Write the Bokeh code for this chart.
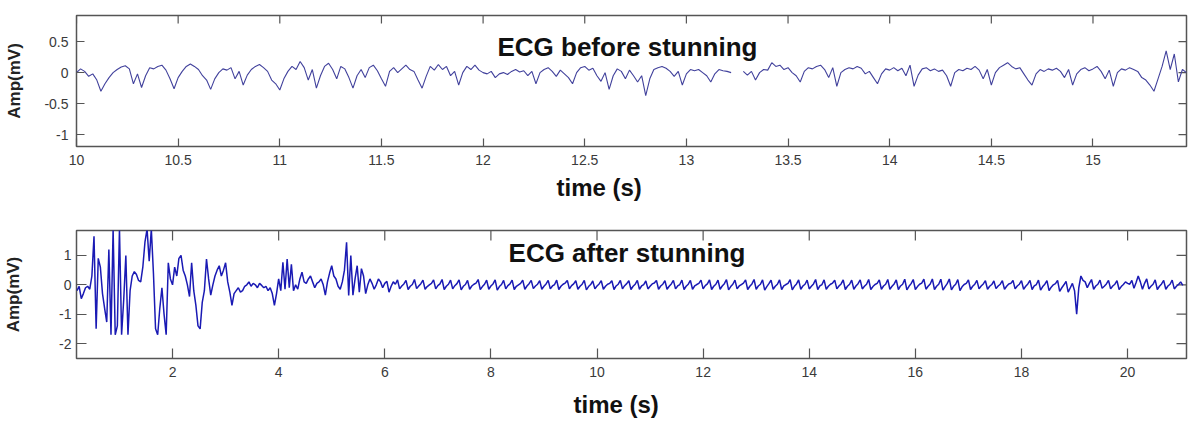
import numpy as np
from bokeh.plotting import figure
from bokeh.layouts import column
from bokeh.models import FixedTicker, Label, ColumnDataSource, Title
from bokeh.embed import file_html
from bokeh.resources import INLINE

nan = float("nan")

# ---------------- data: ECG before stunning (sampled every 0.02 s from 10.00 s)
before_start = 10.0
before_step = 0.02
amp_before = [
    0.0, 0.06, 0.02, -0.06, -0.02, -0.12, -0.30, -0.18, -0.08, 0.0,
    0.05, 0.09, 0.11, 0.06, -0.18, -0.02, -0.24, -0.05, 0.08, 0.06,
    0.10, 0.12, 0.04, -0.10, -0.26, -0.08, 0.02, 0.10, 0.14, 0.10,
    0.05, -0.05, -0.12, -0.27, -0.10, 0.0, 0.06, 0.04, 0.08, -0.10,
    0.02, -0.20, -0.04, 0.05, 0.10, 0.13, 0.08, 0.02, -0.12, -0.18,
    -0.28, -0.10, 0.02, 0.10, 0.05, 0.18, 0.08, -0.12, 0.05, -0.25,
    -0.05, 0.10, 0.15, 0.05, -0.10, 0.10, 0.06, -0.08, -0.25, -0.05,
    0.05, -0.08, 0.08, 0.12, 0.03, -0.10, -0.22, 0.02, 0.08, 0.0,
    0.06, 0.12, 0.05, 0.02, -0.12, -0.25, -0.06, 0.10, 0.04, 0.13,
    0.05, 0.10, -0.05, 0.02, -0.20, 0.0, 0.10, 0.05, 0.12, 0.04,
    0.0, -0.02, 0.02, -0.08, -0.02, 0.0, -0.03, 0.02, 0.05, 0.01,
    0.03, -0.05, 0.02, -0.18, 0.0, 0.05, 0.08, 0.02, -0.06, 0.04,
    -0.02, -0.08, -0.18, 0.0, 0.08, 0.10, 0.04, 0.07, -0.05, -0.14,
    0.0, -0.27, -0.05, 0.06, 0.02, -0.10, 0.04, -0.05, -0.15, -0.05,
    -0.37, -0.10, 0.05, 0.08, 0.10, 0.07, 0.02, -0.06, 0.02, -0.20,
    -0.02, 0.05, 0.03, 0.05, 0.0, -0.05, -0.15, -0.02, 0.05, 0.03,
    0.02, 0.0, nan, nan, 0.02, -0.04, 0.02, -0.12, 0.0, 0.05,
    0.04, 0.16, 0.10, 0.12, 0.05, 0.08, 0.0, -0.05, -0.15, 0.02,
    0.08, 0.06, 0.10, 0.12, 0.05, -0.08, 0.08, -0.22, 0.0, 0.05,
    0.08, 0.06, 0.10, 0.07, -0.02, 0.02, -0.08, -0.18, -0.02, 0.06,
    0.04, 0.08, 0.03, 0.07, -0.05, 0.12, -0.22, -0.04, 0.06, 0.08,
    0.03, 0.06, 0.02, 0.04, -0.05, -0.22, 0.0, 0.05, 0.03, 0.07,
    0.05, 0.10, 0.04, -0.10, 0.05, -0.20, 0.0, 0.08, 0.12, 0.16,
    0.10, 0.06, 0.08, -0.02, -0.12, -0.20, -0.02, 0.05, 0.02, 0.06,
    0.04, 0.07, 0.02, -0.08, 0.05, -0.20, -0.02, 0.05, 0.08, 0.03,
    0.06, 0.10, 0.02, -0.10, 0.04, -0.22, 0.0, 0.06, 0.04, 0.08,
    0.05, 0.02, -0.08, -0.12, -0.20, -0.30, -0.10, 0.10, 0.35, 0.05,
    0.30, -0.15, 0.05, 0.0,
]

# ---------------- data: ECG after stunning (sampled every 0.04 s from 0.20 s)
after_start = 0.2
after_step = 0.04
amp_after = [
    -0.2, -0.05, -0.47, -0.3, -0.1, -0.05, -0.15, 0.3, 1.65, -1.5,
    0.9, 0.6, -0.3, -0.8, -1.27, 1.2, -1.7, 1.9, -1.7, -1.4,
    1.9, -1.7, -0.5, 1.0, -1.7, -0.2, 0.3, 0.45, 0.35, 0.15,
    0.1, 0.6, 1.45, 1.9, 0.8, 1.9, 0.4, -1.5, -1.7, -0.8,
    -0.1, -1.0, -1.7, 0.75, 0.2, 0.0, 0.6, 0.3, 0.9, 1.0,
    0.5, 0.3, 0.0, -0.4, 0.75, -0.2, -0.7, -1.4, -1.5, -0.6,
    -0.2, 0.88, 0.2, -0.35, 0.0, 0.3, 0.5, 0.65, 0.3, 0.5,
    0.75, 0.1, -0.25, -0.7, -0.3, -0.2, -0.1, -0.25, -0.2, -0.05,
    0.0, 0.1, -0.05, 0.05, 0.0, -0.1, 0.05, -0.02, -0.1, -0.05,
    -0.2, -0.1, -0.3, -0.7, -0.3, 0.2, -0.2, 0.77, -0.15, 0.88,
    -0.1, 0.7, -0.2, 0.0, -0.15, 0.2, 0.43, 0.1, 0.05, 0.2,
    0.3, 0.1, -0.1, 0.05, 0.1, 0.2, 0.0, -0.35, 0.1, 0.4,
    0.65, 0.3, 0.2, -0.05, -0.15, 0.1, 0.5, 1.45, -0.36, 1.0,
    -0.35, 0.2, 0.65, -0.25, 0.55, 0.3, -0.3, 0.0, 0.2, 0.05,
    -0.15, 0.0, 0.2, 0.1, -0.1, 0.05, 0.12, -0.25, -0.05, 0.1,
    0.02, 0.17, -0.14, -0.04, 0.03, 0.15, -0.16, -0.05, 0.01, 0.18, -0.13, -0.04, 0.04, 0.16, -0.15, -0.06, 0.0, 0.05, 0.17, -0.14, -0.03,
    0.03, 0.18, -0.16, -0.05, 0.02, 0.16, -0.14, -0.03, 0.04, 0.17, -0.17, -0.05, 0.01, 0.15, -0.15, -0.04, 0.02, 0.06, 0.18, -0.16, -0.06,
    0.02, 0.16, -0.15, -0.04, 0.03, 0.17, -0.18, -0.06, 0.01, 0.15, -0.14, -0.03, 0.03, 0.16, -0.16, -0.05, 0.0, 0.05, 0.16, -0.15, -0.04,
    0.04, 0.15, -0.13, -0.04, 0.02, 0.14, -0.15, -0.05, 0.03, 0.15, -0.14, -0.04, 0.01, 0.16, -0.16, -0.05, 0.02, 0.06, 0.15, -0.14, -0.03,
    0.03, 0.14, -0.15, -0.05, 0.02, 0.15, -0.17, -0.06, 0.01, 0.13, -0.14, -0.04, 0.03, 0.14, -0.15, -0.05, 0.02, 0.05, 0.14, -0.16, -0.04,
    0.02, 0.15, -0.14, -0.03, 0.04, 0.14, -0.16, -0.05, 0.02, 0.15, -0.15, -0.04, 0.01, 0.13, -0.14, -0.05, 0.03, 0.06, 0.15, -0.15, -0.04,
    0.02, 0.14, -0.15, -0.05, 0.03, 0.15, -0.14, -0.04, 0.01, 0.16, -0.16, -0.05, 0.02, 0.15, -0.15, -0.04, 0.01, 0.05, 0.16, -0.14, -0.03,
    0.03, 0.17, -0.16, -0.05, 0.02, 0.16, -0.15, -0.04, 0.04, 0.18, -0.17, -0.06, 0.02, 0.16, -0.14, -0.04, 0.01, 0.06, 0.17, -0.16, -0.05,
    0.03, 0.18, -0.15, -0.04, 0.02, 0.17, -0.18, -0.06, 0.04, 0.16, -0.15, -0.05, 0.02, 0.17, -0.16, -0.04, 0.01, 0.05, 0.18, -0.17, -0.05,
    0.03, 0.17, -0.15, -0.04, 0.02, 0.16, -0.14, -0.05, 0.03, 0.18, -0.16, -0.04, 0.01, 0.17, -0.15, -0.05, 0.02, 0.06, 0.16, -0.14, -0.04,
    0.03, 0.17, -0.16, -0.05, 0.02, 0.16, -0.15, -0.04, 0.04, 0.17, -0.14, -0.05, 0.02, 0.18, -0.16, -0.06, 0.01, 0.05, 0.17, -0.15, -0.04,
    0.02, 0.18, -0.15, -0.05, 0.03, 0.17, -0.16, -0.04, 0.02, 0.19, -0.17, -0.05, 0.04, 0.18, -0.16, -0.06, 0.02, 0.06, 0.19, -0.15, -0.05,
    0.03, 0.20, -0.16, -0.05, 0.02, 0.19, -0.18, -0.06, 0.04, 0.20, -0.17, -0.05, 0.02, 0.18, -0.20, -0.07, 0.01, 0.05, 0.17, -0.16, -0.05,
    0.02, 0.15, -0.14, -0.04, 0.03, 0.14, -0.15, -0.05, 0.01, 0.13, -0.13, -0.04, 0.02, 0.14, -0.15, -0.05, 0.03, 0.05, 0.15, -0.14, -0.04,
    0.02, 0.14, -0.15, -0.05, 0.03, 0.15, -0.16, -0.04, 0.01, 0.16, -0.18, -0.06, 0.02, 0.14, -0.20, -0.08, 0.0, 0.04, 0.15, -0.22, -0.10,
    0.0, 0.12, -0.25, -0.10, 0.05, -0.20, -1.0, -0.10, 0.30, 0.15, 0.10, -0.10, 0.05, 0.18, -0.15, -0.04, 0.02, 0.16, -0.12, -0.05, 0.03,
    0.15, -0.14, -0.04, 0.02, 0.14, -0.16, -0.06, 0.01, 0.10, 0.05, 0.02, 0.15, -0.12, 0.08, 0.30, 0.10, -0.15, 0.05, 0.20, -0.14, -0.05,
    0.02, 0.17, -0.16, -0.05, 0.03, 0.15, -0.15, -0.04, 0.02, 0.16, -0.14, -0.05, 0.01, 0.10, -0.02,
]

before_xticks = [10, 10.5, 11, 11.5, 12, 12.5, 13, 13.5, 14, 14.5, 15]
before_xlabels = ["10", "10.5", "11", "11.5", "12", "12.5", "13", "13.5", "14", "14.5", "15"]
before_yticks = [-1, -0.5, 0, 0.5]
before_ylabels = ["-1", "-0.5", "0", "0.5"]

after_xticks = [2, 4, 6, 8, 10, 12, 14, 16, 18, 20]
after_xlabels = ["2", "4", "6", "8", "10", "12", "14", "16", "18", "20"]
after_yticks = [-2, -1, 0, 1]
after_ylabels = ["-2", "-1", "0", "1"]

FRAME = "#555555"
TICKTXT = "#3a3a3a"
FONT = "Liberation Sans"


def style(p, xt, xl, yt, yl, tick_len, xstand, ystand, ylab_stand, xlab_offset, xlab_stand):
    p.xgrid.visible = False
    p.ygrid.visible = False
    p.outline_line_color = FRAME
    p.outline_line_width = 1.5
    p.background_fill_color = "white"
    p.border_fill_color = "white"
    xa = p.xaxis[0]
    ya = p.yaxis[0]
    xa.ticker = FixedTicker(ticks=xt)
    ya.ticker = FixedTicker(ticks=yt)
    xa.major_label_overrides = {float(k): v for k, v in zip(xt, xl)}
    ya.major_label_overrides = {float(k): v for k, v in zip(yt, yl)}
    for ax in (xa, ya):
        ax.major_tick_in = tick_len
        ax.major_tick_out = 0
        ax.minor_tick_line_color = None
        ax.axis_line_color = None
        ax.major_tick_line_color = FRAME
        ax.major_tick_line_width = 1.2
        ax.major_label_text_font = FONT
        ax.major_label_text_font_size = "14px"
        ax.major_label_text_color = TICKTXT
    xa.major_label_standoff = xstand
    ya.major_label_standoff = ystand
    ya.axis_label = "Amp(mV)"
    ya.axis_label_text_font = FONT
    ya.axis_label_text_font_style = "bold"
    ya.axis_label_text_font_size = "17px"
    ya.axis_label_text_color = "#222222"
    ya.axis_label_standoff = ylab_stand
    # x-axis caption, placed left of centre as in the original
    p.add_layout(Title(text="time (s)", align="left", offset=xlab_offset,
                       standoff=xlab_stand, text_font=FONT, text_font_style="bold",
                       text_font_size="24px", text_color="#111111"), "below")
    # inward ticks on the top and right edges of the box
    x1 = p.x_range.end
    y1 = p.y_range.end
    p.ray(x=xt, y=[y1] * len(xt), length=tick_len, length_units="screen",
          angle=-np.pi / 2, line_color=FRAME, line_width=1.2)
    p.ray(x=[x1] * len(yt), y=yt, length=tick_len, length_units="screen",
          angle=np.pi, line_color=FRAME, line_width=1.2)


# ---------------- top figure
t_before = before_start + before_step * np.arange(len(amp_before))
p1 = figure(width=1201, height=212, x_range=(10.0, 15.46), y_range=(-1.19, 0.92),
            output_backend="svg", toolbar_location=None,
            min_border_left=73, min_border_right=0, min_border_top=15, min_border_bottom=66)
style(p1, before_xticks, before_xlabels, before_yticks, before_ylabels, 8, 8, 8, 17, 480, 8)
src1 = ColumnDataSource(dict(t=t_before, a=np.array(amp_before, dtype=float)))
p1.line("t", "a", source=src1, line_color="#41419c", line_width=1.1)
p1.add_layout(Label(x=12.71, y=0.42, text="ECG before stunning", text_font=FONT,
                    text_font_style="bold", text_font_size="26px", text_align="center",
                    text_baseline="middle", text_color="#111111"))

# ---------------- bottom figure
t_after = after_start + after_step * np.arange(len(amp_after))
p2 = figure(width=1201, height=217, x_range=(0.19, 21.11), y_range=(-2.51, 1.85),
            output_backend="svg", toolbar_location=None,
            min_border_left=76, min_border_right=15, min_border_top=18, min_border_bottom=71)
style(p2, after_xticks, after_xlabels, after_yticks, after_ylabels, 10, 8, 5, 33, 497, 19)
src2 = ColumnDataSource(dict(t=t_after, a=np.array(amp_after, dtype=float)))
p2.line("t", "a", source=src2, line_color="#1a1ab4", line_width=1.5)
p2.add_layout(Label(x=10.565, y=1.10, text="ECG after stunning", text_font=FONT,
                    text_font_style="bold", text_font_size="26px", text_align="center",
                    text_baseline="middle", text_color="#111111"))

layout = column(p1, p2, spacing=0)
open("out.html", "w").write(file_html(layout, INLINE))
